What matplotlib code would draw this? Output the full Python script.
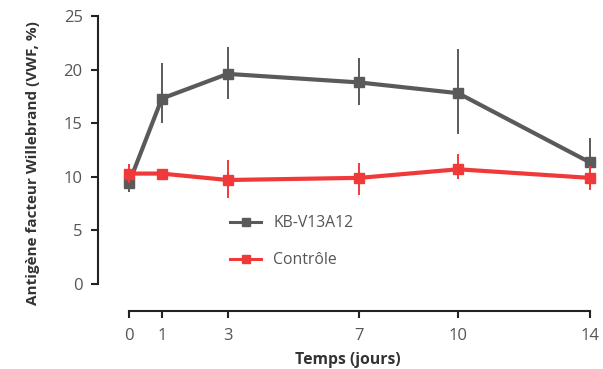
import matplotlib
matplotlib.use("Agg")
import matplotlib.pyplot as plt
from matplotlib.lines import Line2D
import numpy as np

plt.rcParams['font.family'] = ['Open Sans', 'DejaVu Sans']

days = [0, 1, 3, 7, 10, 14]
kb_values = [9.4, 17.3, 19.6, 18.8, 17.8, 11.35]
kb_err_low = [0.8, 2.3, 2.3, 2.1, 3.8, 2.3]
kb_err_high = [0.8, 3.3, 2.5, 2.3, 4.1, 2.3]
ctrl_values = [10.3, 10.3, 9.7, 9.9, 10.7, 9.9]
ctrl_err_low = [0.9, 0.3, 1.7, 1.6, 0.9, 1.1]
ctrl_err_high = [0.9, 0.3, 1.9, 1.4, 1.4, 1.1]
labels = ['KB-V13A12', 'Contrôle']
xticks = [0, 1, 3, 7, 10, 14]
yticks = [0, 5, 10, 15, 20, 25]

gray = '#5a5a5a'
red = '#f03a3a'
txt = '#555555'

fig = plt.figure(figsize=(6.03, 3.69), dpi=100)
ax = fig.add_axes([98/603, 1-311/369, (598-98)/603, (311-16)/369])

ax.errorbar(days, kb_values, yerr=[kb_err_low, kb_err_high], color=gray, lw=3,
            marker='s', ms=7.5, ecolor=gray, elinewidth=1.4, capsize=0, zorder=3)
ax.errorbar(days, ctrl_values, yerr=[ctrl_err_low, ctrl_err_high], color=red, lw=3,
            marker='s', ms=7.5, ecolor=red, elinewidth=1.4, capsize=0, zorder=4)

ax.set_xlim(-0.94, 14.25)
ax.set_ylim(-2.52, 25)
ax.spines['top'].set_visible(False)
ax.spines['right'].set_visible(False)
ax.spines['left'].set_bounds(0, 25)
ax.spines['bottom'].set_bounds(0, 14)
for s in ('left', 'bottom'):
    ax.spines[s].set_linewidth(1.5)
    ax.spines[s].set_color('#222222')
ax.set_xticks(xticks)
ax.set_yticks(yticks)
ax.tick_params(axis='both', direction='out', length=5, width=1.5, color='#222222',
               labelcolor=txt, labelsize=12)
ax.tick_params(axis='y', pad=6)
ax.tick_params(axis='x', pad=7)
ax.set_xlabel('Temps (jours)', fontsize=11.3, fontweight='bold', color='#333333', labelpad=6)
ax.set_ylabel('Antigène facteur Willebrand (VWF, %)', fontsize=11, fontweight='bold',
              color='#333333', labelpad=17)

handles = [Line2D([], [], color=gray, lw=2.2, marker='s', ms=6),
           Line2D([], [], color=red, lw=2.2, marker='s', ms=6)]
leg = ax.legend(handles, labels, loc='upper left', bbox_to_anchor=(230/603, 1-215/369),
                bbox_transform=fig.transFigure, frameon=False, fontsize=11.3,
                handlelength=2.0, handletextpad=0.75, labelspacing=1.35,
                borderpad=0, borderaxespad=0)
for t in leg.get_texts():
    t.set_color(txt)

fig.savefig('out.png', dpi=100)
